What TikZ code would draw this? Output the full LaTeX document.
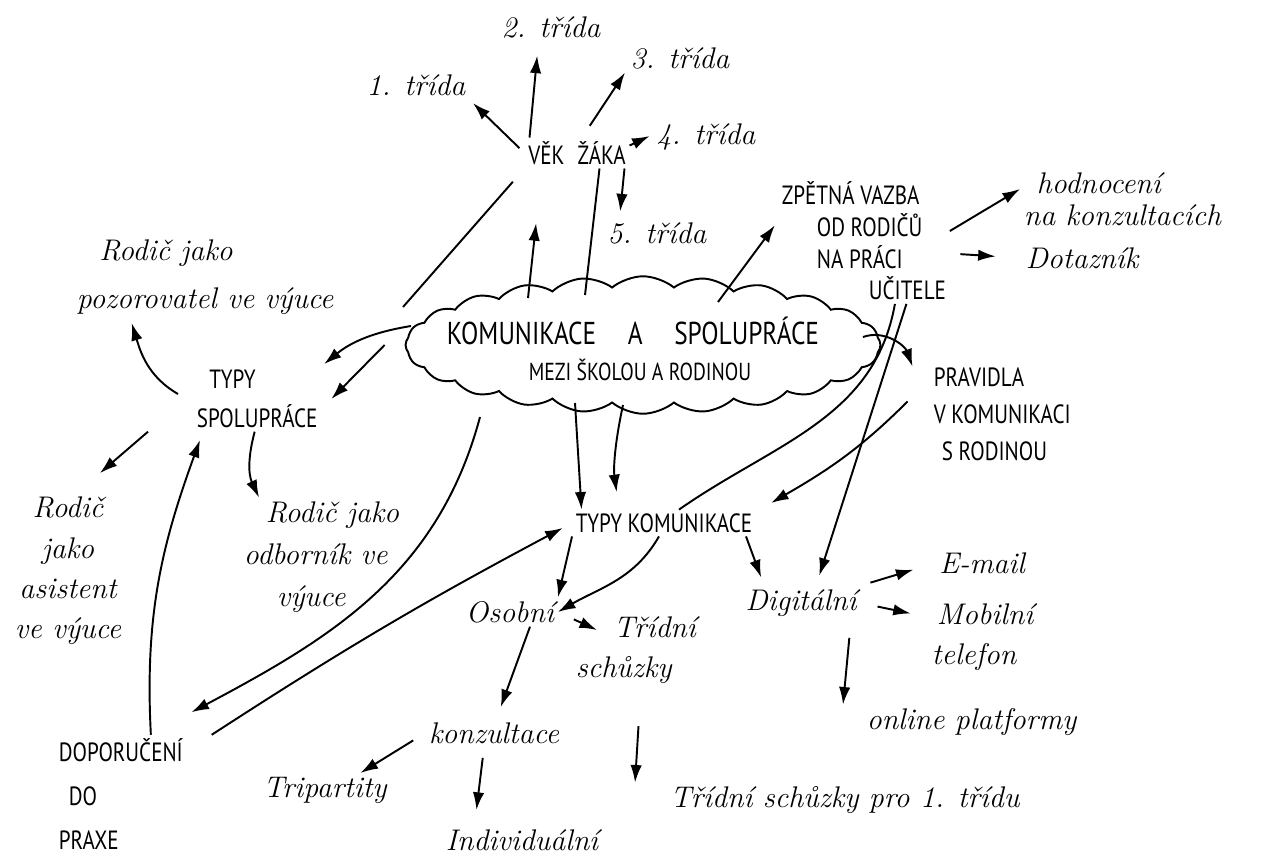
\documentclass[tikz,border=0pt]{standalone}
\usepackage{fontspec}
\newfontfamily\capsfont[FakeStretch=0.8]{PT Sans}
\usetikzlibrary{arrows.meta, shapes.symbols}
\tikzset{
	capsnode/.style={font=\capsfont\fontsize{15}{#1}\selectfont, align=left, inner sep=2pt},
	capsnode/.default=21,
	handnode/.style={font=\itshape\fontsize{17}{#1}\selectfont, align=left, inner sep=2pt},
	handnode/.default=23,
	mapcloud/.style={cloud, draw, cloud puffs=24, cloud puff arc=80, aspect=4.3, minimum width=9.5cm, minimum height=2.75cm, inner sep=0pt, line width=1.1pt},
	maparr/.style={-{Latex[length=10pt,width=6.5pt]}, line width=1.1pt},
	mapline/.style={line width=1.1pt},
}

\begin{document}
\begin{tikzpicture}[x=0.02cm, y=-0.02cm]
	\useasboundingbox (0,0) rectangle (1266,856);
	\fill[white] (0,0) rectangle (1266,856);

	% centre
	\node[mapcloud] (cloud) at (643,345) {};
	\node[capsnode, font=\capsfont\fontsize{18}{22}\selectfont] (komspol) at (633,331) {KOMUNIKACE\quad A\quad SPOLUPRÁCE};
	\node[capsnode, font=\capsfont\fontsize{14}{16}\selectfont] (mezi) at (640,370) {MEZI ŠKOLOU A RODINOU};

	% age of pupils
	\node[capsnode] (vek) at (577,153) {VĚK\enspace ŽÁKA};
	\node[handnode] (t1) at (416,85) {1. třída};
	\node[handnode] (t2) at (551,27) {2. třída};
	\node[handnode] (t3) at (680,58) {3. třída};
	\node[handnode] (t4) at (706,137) {4. třída};
	\node[handnode] (t5) at (657,233) {5. třída};

	% feedback
	\node[capsnode=18, anchor=west] (zpet) at (778,241) {ZPĚTNÁ VAZBA\\\hspace*{0.7cm}OD RODIČŮ\\\hspace*{0.7cm}NA PRÁCI\\\hspace*{1.74cm}UČITELE};
	\node[handnode=18, anchor=west] (hodn) at (1020,199) {\hspace*{0.26cm}hodnocení\\na konzultacích};
	\node[handnode, anchor=west] (dotaz) at (1022,258) {Dotazník};

	% cooperation
	\node[handnode=27, anchor=west] (pozor) at (73,277) {\hspace*{0.45cm}Rodič jako\\pozorovatel ve výuce};
	\node[capsnode=22, anchor=west] (typys) at (193,399) {\hspace*{0.25cm}TYPY\\SPOLUPRÁCE};
	\node[handnode=23, align=center] (asist) at (68,571) {Rodič\\jako\\asistent\\ve výuce};
	\node[handnode=24, anchor=west] (odbor) at (240,557) {\hspace*{0.44cm}Rodič jako\\odborník ve\\\hspace*{0.66cm}výuce};
	\node[capsnode=25, anchor=west] (dopor) at (55,794) {DOPORUČENÍ\\\hspace*{0.2cm}DO\\PRAXE};

	% rules
	\node[capsnode, anchor=west] (pravid) at (930,414) {PRAVIDLA\\V KOMUNIKACI\\\hspace*{0.16cm}S RODINOU};

	% communication
	\node[capsnode] (typyk) at (664,523) {TYPY KOMUNIKACE};
	\node[handnode] (osob) at (510,612) {Osobní};
	\node[handnode=23, anchor=west] (trid) at (572,650) {\hspace*{0.76cm}Třídní\\schůzky};
	\node[handnode] (konz) at (494,733) {konzultace};
	\node[handnode] (trip) at (325,790) {Tripartity};
	\node[handnode] (indiv) at (522,840) {Individuální};
	\node[handnode] (tr1) at (845,800) {Třídní schůzky pro 1. třídu};
	\node[handnode] (digi) at (801,603) {Digitální};
	\node[handnode] (email) at (982,563) {E-mail};
	\node[handnode=23, anchor=west] (mobil) at (928,637) {\hspace*{0.1cm}Mobilní\\telefon};
	\node[handnode, anchor=west] (online) at (863,722) {online platformy};

	% cloud and age
	\draw[mapline, shorten >=10pt] ([shift={(-240,-38)}]cloud.center) -- (vek.south west);
	\draw[maparr, shorten >=1.1cm] ([shift={(-115,-47)}]cloud.center) -- ([xshift=-0.7cm]vek.south);
	\draw[mapline] ([shift={(-58,-50)}]cloud.center) -- ([xshift=0.45cm]vek.south);
	\draw[maparr, shorten <=4pt, shorten >=3pt] (vek.west) -- (t1.south east);
	\draw[maparr, shorten >=8pt] ([xshift=-0.95cm]vek.north) -- ([xshift=-0.25cm]t2.south);
	\draw[maparr, shorten <=8pt] ([xshift=0.1cm]vek.north) -- ([xshift=-1.1cm]t3.south);
	\draw[maparr, shorten >=2pt] ([yshift=0.15cm]vek.east) -- ([yshift=0.05cm]t4.west);
	\draw[maparr, shorten >=4pt] ([xshift=0.95cm]vek.south) -- ([xshift=-0.75cm]t5.north);

	% feedback
	\draw[maparr, shorten >=3pt] ([shift={(75,-43)}]cloud.center) -- ([yshift=0.4cm]zpet.west);
	\draw[maparr] ([yshift=0.2cm]zpet.east) -- ([yshift=0.2cm]hodn.west);
	\draw[maparr, shorten <=6pt, shorten >=15pt] ([yshift=-0.25cm]zpet.east) -- (dotaz.west);
	\draw[mapline] ([xshift=0.62cm]zpet.south) to[out=-100, in=35] ([xshift=0.3cm]typyk.north);
	\draw[maparr, shorten >=6pt] ([xshift=0.85cm]zpet.south) -- ([xshift=0.3cm]digi.north);

	% rules
	\draw[maparr] ([shift={(220,-8)}]cloud.center) to[out=20, in=110] ([xshift=-0.35cm, yshift=0.95cm]pravid.west);
	\draw[maparr] ([xshift=-0.45cm, yshift=0.25cm]pravid.west) to[out=225, in=30] ([xshift=0.3cm, yshift=0.4cm]typyk.east);

	% cooperation
	\draw[maparr, shorten >=2pt] ([shift={(-232,-19)}]cloud.center) to[bend right=15] (typys.north east);
	\draw[maparr] ([xshift=-0.4cm]cloud.west) -- ([xshift=0.2cm]typys.east);
	\draw[maparr, shorten >=3pt] ([xshift=-0.3cm, yshift=0.1cm]typys.west) to[out=150, in=-73] ([xshift=-1.5cm]pozor.south);
	\draw[maparr] ([xshift=-0.9cm]typys.south west) -- ([xshift=-0.5cm, yshift=0.4cm]asist.north east);
	\draw[maparr] ([xshift=-0.05cm]typys.south) to[out=-105, in=115] ([xshift=-1.25cm]odbor.north);

	% recommendations
	\draw[maparr, shorten >=5pt] ([xshift=0.6cm]dopor.north) to[out=93, in=-110] ([xshift=0.2cm]typys.south west);
	\draw[maparr, shorten >=3pt] ([shift={(-163,72)}]cloud.center) to[out=-105, in=28] ([yshift=0.4cm]dopor.north east);
	\draw[maparr, shorten >=6pt] ([xshift=0.5cm]dopor.north east) to[out=33, in=-152] (typyk.west);

	% types of communication
	\draw[maparr] ([shift={(-68,58)}]cloud.center) -- ([xshift=-1.65cm]typyk.north);
	\draw[maparr, shorten >=10pt] ([shift={(-20,60)}]cloud.center) to[bend right=10] ([xshift=-0.9cm]typyk.north);
	\draw[maparr] (typyk.south west) -- (osob.north east);
	\draw[maparr] ([xshift=-0.1cm]typyk.south) to[out=-120, in=30] (osob.east);
	\draw[maparr, shorten >=5pt] ([xshift=-0.2cm]typyk.south east) -- ([xshift=0.45cm]digi.north west);

	% personal
	\draw[maparr, shorten <=10pt] (osob.east) -- ([xshift=0.5cm, yshift=0.4cm]trid.west);
	\draw[maparr, shorten >=7pt] ([xshift=0.4cm]osob.south) -- ([xshift=0.05cm]konz.north);
	\draw[maparr, shorten <=22pt] ([xshift=0.1cm]trid.south) -- ([xshift=-4.2cm]tr1.north);
	\draw[maparr, shorten <=8pt] (konz.west) -- ([xshift=-0.6cm]trip.north east);
	\draw[maparr, shorten <=6pt, shorten >=9pt] ([xshift=-0.2cm]konz.south) -- ([xshift=-0.95cm]indiv.north);

	% digital
	\draw[maparr, shorten <=6pt, shorten >=13pt] (digi.north east) -- (email.west);
	\draw[maparr, shorten <=10pt, shorten >=10pt] (digi.east) -- ([yshift=0.4cm]mobil.west);
	\draw[maparr, shorten <=10pt] ([xshift=1cm]digi.south) -- ([xshift=-0.4cm]online.north west);
\end{tikzpicture}
\end{document}
